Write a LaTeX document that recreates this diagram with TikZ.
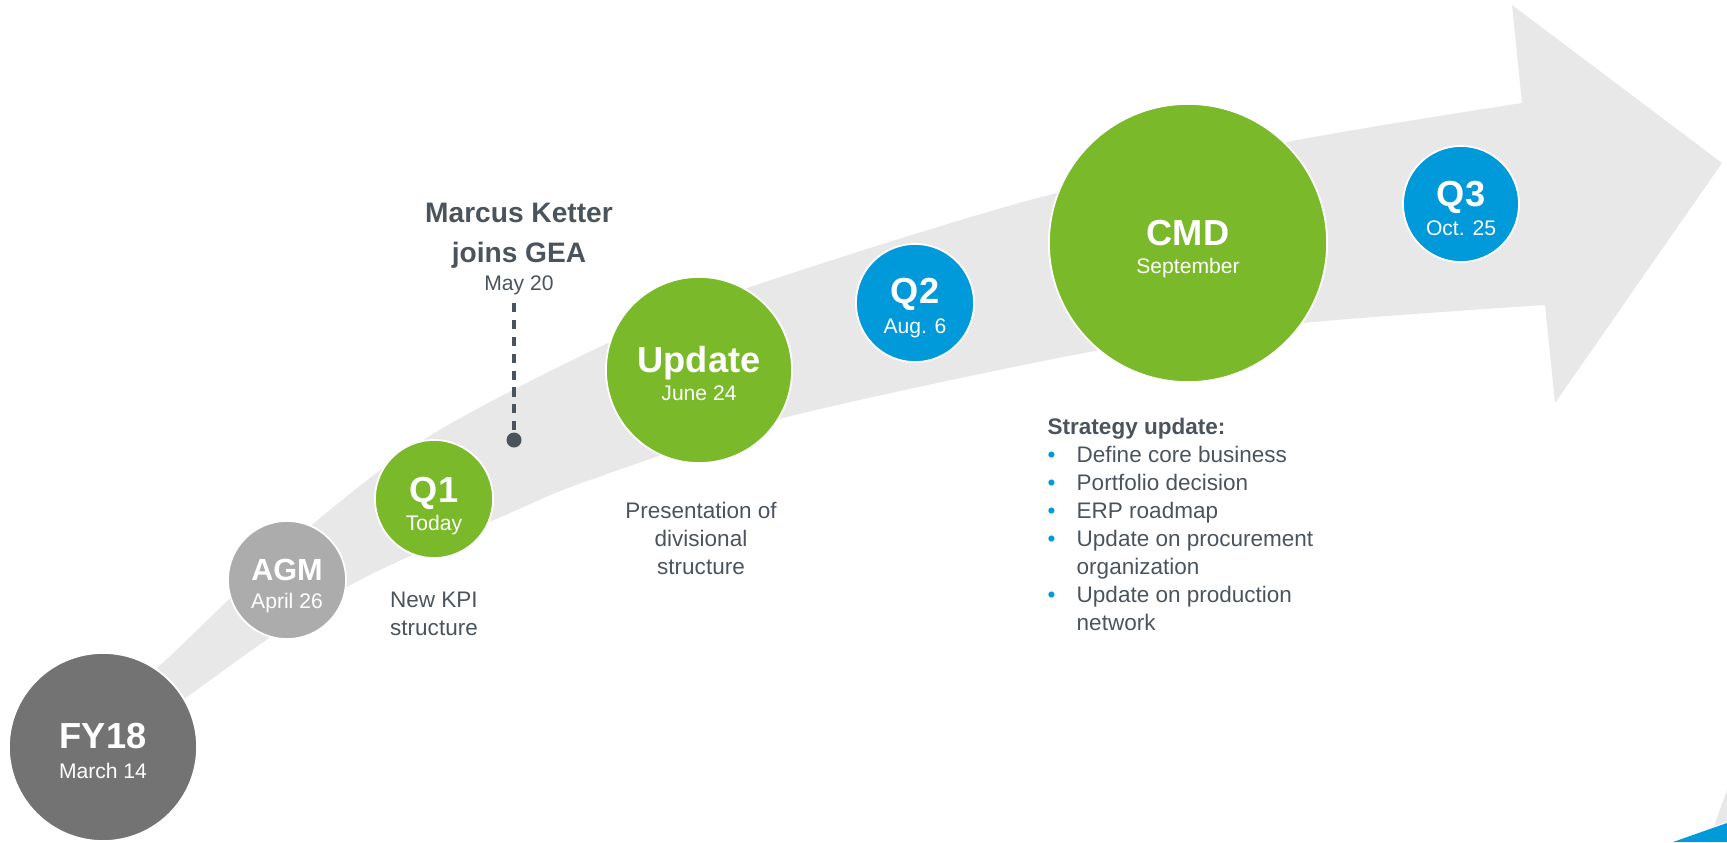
\documentclass[tikz,border=0pt]{standalone}
\usepackage{fontspec}
\setmainfont{Liberation Sans}
\usepackage{xcolor}
\usepackage{tikz}
\usetikzlibrary{calc}

\definecolor{geagreen}{HTML}{7AB929}
\definecolor{geablue}{HTML}{0099DA}
\definecolor{darkgrey}{HTML}{737373}
\definecolor{lightgrey}{HTML}{ACACAC}
\definecolor{bandgrey}{HTML}{E8E8E8}
\definecolor{slate}{HTML}{4B545C}

\newcommand{\listdot}{\makebox[0.29cm][l]{\textcolor{geablue}{\textbullet}}}

\begin{document}
\begin{tikzpicture}[
  x=0.01cm, y=-0.01cm,
  event/.style={circle, draw=white, line width=0.5pt, inner sep=0pt},
  tag/.style={anchor=base, text=white, inner sep=0pt,
              font=\fontsize{10.3}{12}\selectfont\bfseries},
  sub/.style={anchor=base, text=white, inner sep=0pt,
              font=\fontsize{6}{7}\selectfont},
  note/.style={anchor=north, text=slate, align=center, inner sep=0pt,
               font=\fontsize{6.4}{8}\selectfont}
]
  \useasboundingbox (0,0) rectangle (1727,842);

  % Timeline arrow
  \fill[bandgrey]
    plot[smooth] coordinates {(120,690) (157,668) (280,552) (423,440) (608,343)
                              (747,288) (1030,200) (1287,142) (1522,103)}
    -- (1512,5) -- (1722,163) -- (1555,403) -- (1545,305)
    -- plot[smooth] coordinates {(1545,305) (1303,323) (1100,350) (783,418) (590,480)
                                 (510,513) (347,587) (187,697) (150,730)}
    -- cycle;

  % Corner mark
  \fill[geablue] (1673,842) -- (1727,823) -- (1727,842) -- cycle;
  \fill[bandgrey] (1714,826) -- (1727,790) -- (1727,822) -- cycle;

  % FY18
  \node[event, fill=darkgrey, minimum size=1.88cm] (fy) at (103,747) {};
  \node[tag] (fytag) at ($(fy)+(0,1)$) {FY18};
  \node[sub] (fydate) at ($(fy)+(0,31)$) {March 14};

  % AGM
  \node[event, fill=lightgrey, minimum size=1.18cm] (agm) at (287,580) {};
  \node[tag, font=\fontsize{8.7}{10}\selectfont\bfseries] (agmtag) at ($(agm)+(0,0)$) {AGM};
  \node[sub] (agmdate) at ($(agm)+(0,28)$) {April 26};

  % Q1
  \node[event, fill=geagreen, minimum size=1.18cm] (qone) at (434,499) {};
  \node[tag] (qonetag) at ($(qone)+(0,3)$) {Q1};
  \node[sub] (qonedate) at ($(qone)+(0,31)$) {Today};

  % Update
  \node[event, fill=geagreen, minimum size=1.86cm] (upd) at (699,370) {};
  \node[tag] (updtag) at ($(upd)+(0,2)$) {Update};
  \node[sub] (upddate) at ($(upd)+(0,30)$) {June 24};

  % Q2
  \node[event, fill=geablue, minimum size=1.18cm] (qtwo) at (915,303) {};
  \node[tag] (qtwotag) at ($(qtwo)+(0,0)$) {Q2};
  \node[sub] (qtwodate) at ($(qtwo)+(0,30)$) {Aug. 6};

  % CMD
  \node[event, fill=geagreen, minimum size=2.78cm] (cmd) at (1188,243) {};
  \node[tag] (cmdtag) at ($(cmd)+(0,2)$) {CMD};
  \node[sub] (cmddate) at ($(cmd)+(0,30)$) {September};

  % Q3
  \node[event, fill=geablue, minimum size=1.16cm] (qthree) at (1461,204) {};
  \node[tag] (qthreetag) at ($(qthree)+(0,2)$) {Q3};
  \node[sub] (qthreedate) at ($(qthree)+(0,31)$) {Oct. 25};

  % New CFO
  \node[note, font=\fontsize{8}{11.4}\selectfont\bfseries] (ketter) at (519,202)
    {Marcus Ketter\\joins GEA};
  \node[note, font=\fontsize{6}{7}\selectfont] (may) at (519,275) {May 20};
  \node[circle, fill=slate, inner sep=0pt, minimum size=0.15cm] (pin) at (514,440) {};
  \coordinate (pintop) at (514,303);
  \draw[slate, line width=0.9pt, dash pattern=on 2.6pt off 2.2pt] (pintop) -- (pin);

  % Notes below the milestones
  \node[note] (kpi) at (434,591) {New KPI\\structure};
  \node[note] (divisional) at (701,501) {Presentation of\\divisional\\structure};
  \node[note, align=left, anchor=north west] (strategy) at (1047,417)
    {\textbf{Strategy update:}\\
     \listdot Define core business\\
     \listdot Portfolio decision\\
     \listdot ERP roadmap\\
     \listdot Update on procurement\\
     \hspace*{0.29cm}organization\\
     \listdot Update on production\\
     \hspace*{0.29cm}network};
\end{tikzpicture}
\end{document}
